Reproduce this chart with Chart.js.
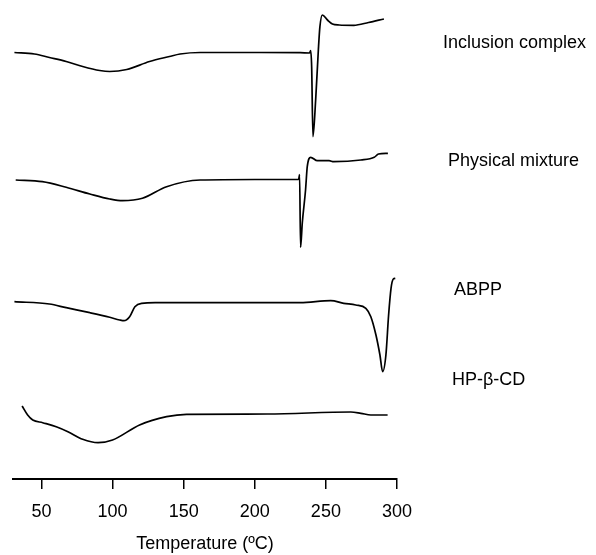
<!DOCTYPE html>
<html>
<head>
<meta charset="utf-8">
<script src="https://cdn.jsdelivr.net/npm/chart.js@4/dist/chart.umd.min.js"></script>
<style>
  html, body { margin: 0; padding: 0; background: #fff; }
  #wrap { width: 596px; height: 555px; }
</style>
</head>
<body>
<div id="wrap"><canvas id="dsc"></canvas></div>
<script>
// DSC thermograms, heat flow in arbitrary units
const sampleNames = ["Inclusion complex", "Physical mixture", "ABPP", "HP-\u03b2-CD"];
const xTicks = [50, 100, 150, 200, 250, 300];

const complexTemp = [31, 45, 55.6, 67.4, 79, 91, 98, 110, 126, 140, 147.5, 161.6, 200, 232, 238.5, 239.3, 240.0, 240.9, 242.8, 244.7, 245.8, 247.5, 251.1, 254.6, 259.3, 269.6, 280, 290.8];
const complexFlow = [0, -1.5, -5, -9, -14, -18, -19, -17, -9, -4, -1.5, 0, 0, -0.2, -0.5, 1.8, -14.5, -84.2, -47.5, 2.5, 25.8, 37.5, 32.5, 28.5, 27.5, 27.2, 30, 33.5];

const mixtureTemp = [31.9, 50.7, 67.4, 84, 98, 107, 121, 138, 161.6, 200, 230.8, 231.5, 232.2, 233.4, 235.7, 236.9, 239.3, 244, 252.2, 255.5, 274.6, 284, 287, 293.6];
const mixtureFlow = [-0.5, -2.2, -7.8, -14.5, -19.5, -21.2, -18.8, -7.2, -0.5, 0, 0, 5, -67.8, -43.5, -10.5, 12.8, 22.2, 18.8, 18.8, 17.8, 19.5, 22.2, 25.5, 26.2];

const abppTemp = [31, 55.6, 67.4, 84, 98, 105, 108, 112, 115.7, 120.4, 130, 185, 232, 253.4, 262.6, 271, 278.1, 281.6, 285.2, 288, 289.9, 292.2, 294.1, 295.8, 297.4, 298.8];
const abppFlow = [1, -1.3, -5, -10, -14.6, -17.3, -18, -14, -4, -0.6, 0, 0, 0, 2, -0.6, -2.3, -5.6, -14, -32.3, -52.3, -69, -52.3, -12.3, 14.4, 23.7, 24.4];

const cdTemp = [36.4, 40.3, 43.9, 50.9, 60.4, 68.6, 79, 89.8, 100, 119, 138, 152, 208.7, 267.5, 274.6, 281.6, 293.4];
const cdFlow = [8, -1, -6, -8.7, -12.7, -17.7, -25.3, -28.7, -26, -11, -2.7, -0.3, 0, 2, 0.7, -1, -1];

// vertical shift of each trace so they stack like the figure
const traceOffsets = [426.5, 299.5, 176.3, 65];

function toPoints(temps, flows, shift) {
    return temps.map((t, i) => ({ x: t, y: flows[i] + shift }));
}

const traces = [
    toPoints(complexTemp, complexFlow, traceOffsets[0]),
    toPoints(mixtureTemp, mixtureFlow, traceOffsets[1]),
    toPoints(abppTemp, abppFlow, traceOffsets[2]),
    toPoints(cdTemp, cdFlow, traceOffsets[3])
];

// sample names written to the right of the plot
const sideLabels = {
    id: "sideLabels",
    afterDraw(chart) {
        const ctx = chart.ctx;
        const spots = [[443, 48], [448, 166], [454, 295], [452, 385]];
        ctx.save();
        ctx.fillStyle = "#000";
        ctx.font = "18px 'Liberation Sans', Arial, sans-serif";
        ctx.textBaseline = "alphabetic";
        sampleNames.forEach((name, i) => {
            ctx.fillText(name, spots[i][0], spots[i][1]);
        });
        ctx.restore();
    }
};

const ctx = document.getElementById("dsc").getContext("2d");
new Chart(ctx, {
    type: "line",
    data: {
        datasets: traces.map((pts, i) => ({
            label: sampleNames[i],
            data: pts,
            borderColor: "#000",
            borderWidth: 1.7,
            pointRadius: 0,
            fill: false,
            cubicInterpolationMode: "monotone"
        }))
    },
    options: {
        responsive: true,
        maintainAspectRatio: false,
        animation: false,
        layout: { padding: { left: 13, right: 199, top: 9, bottom: 0 } },
        plugins: {
            legend: { display: false },
            tooltip: { enabled: false }
        },
        scales: {
            x: {
                type: "linear",
                min: 30,
                max: 300,
                afterBuildTicks: (scale) => {
                    scale.ticks = xTicks.map(v => ({ value: v }));
                },
                grid: {
                    drawOnChartArea: false,
                    drawTicks: true,
                    tickLength: 10,
                    color: "#000",
                    lineWidth: 1.5
                },
                border: { display: true, color: "#000", width: 2 },
                ticks: {
                    color: "#000",
                    padding: 14,
                    maxRotation: 0,
                    font: { family: "'Liberation Sans', Arial, sans-serif", size: 18, lineHeight: 1 }
                },
                title: {
                    display: true,
                    text: "Temperature (\u00baC)",
                    color: "#000",
                    padding: { top: 0, bottom: 2 },
                    font: { family: "'Liberation Sans', Arial, sans-serif", size: 18, lineHeight: 1 }
                }
            },
            y: {
                type: "linear",
                min: 0,
                max: 470,
                display: false
            }
        }
    },
    plugins: [sideLabels]
});
</script>
</body>
</html>
